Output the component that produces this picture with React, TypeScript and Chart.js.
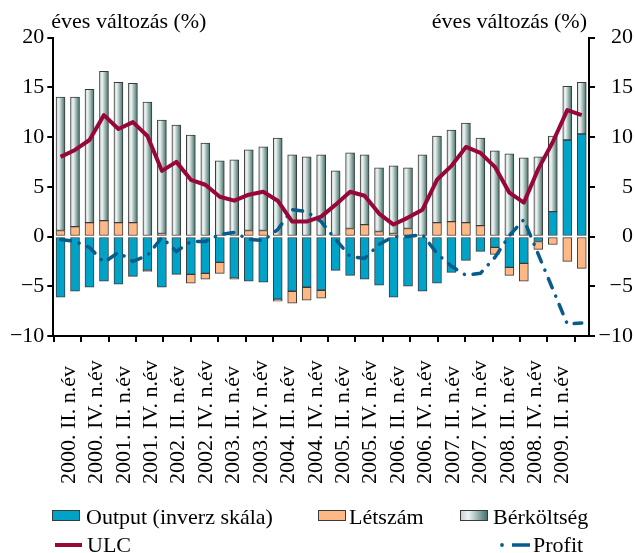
import { useEffect, useRef } from 'react';
import { Chart, registerables } from 'chart.js';

Chart.register(...registerables);

const categories = [
  '2000. II. n.év', '2000. III. n.év', '2000. IV. n.év',
  '2001. I. n.év', '2001. II. n.év', '2001. III. n.év', '2001. IV. n.év',
  '2002. I. n.év', '2002. II. n.év', '2002. III. n.év', '2002. IV. n.év',
  '2003. I. n.év', '2003. II. n.év', '2003. III. n.év', '2003. IV. n.év',
  '2004. I. n.év', '2004. II. n.év', '2004. III. n.év', '2004. IV. n.év',
  '2005. I. n.év', '2005. II. n.év', '2005. III. n.év', '2005. IV. n.év',
  '2006. I. n.év', '2006. II. n.év', '2006. III. n.év', '2006. IV. n.év',
  '2007. I. n.év', '2007. II. n.év', '2007. III. n.év', '2007. IV. n.év',
  '2008. I. n.év', '2008. II. n.év', '2008. III. n.év', '2008. IV. n.év',
  '2009. I. n.év', '2009. II. n.év',
];

const output = [-6.1, -5.5, -5.1, -4.5, -4.8, -4.0, -3.4, -5.1, -3.8, -3.8, -3.7, -2.6, -4.2, -4.5, -4.6, -6.3, -5.5, -5.1, -5.4, -3.4, -3.9, -4.3, -4.9, -6.1, -5.0, -5.5, -4.7, -3.6, -2.4, -1.5, -1.1, -3.1, -2.7, -0.5, 2.5, 9.7, 10.3];
const letszam = [0.6, 1.0, 1.4, 1.6, 1.4, 1.4, -0.1, 0.3, 0, -0.9, -0.6, -1.1, -0.1, 0.6, 0.6, -0.2, -1.2, -1.3, -0.8, 0, 0.8, 1.2, 0.5, 0.3, 0.8, 0.1, 1.4, 1.5, 1.4, 1.1, -0.7, -0.8, -1.8, -0.8, -0.8, -2.5, -3.2];
const berkoltseg = [13.4, 13.0, 13.4, 15.0, 14.1, 14.0, 13.5, 11.4, 11.2, 10.2, 9.4, 7.6, 7.7, 8.1, 8.4, 9.9, 8.2, 8.0, 8.2, 6.6, 7.6, 7.0, 6.4, 6.8, 6.1, 8.1, 8.7, 9.2, 10.0, 8.8, 8.6, 8.3, 7.9, 8.0, 7.6, 5.4, 5.2];
const ulc = [8.0, 8.7, 9.7, 12.2, 10.8, 11.5, 10.1, 6.6, 7.5, 5.7, 5.2, 4.0, 3.6, 4.2, 4.5, 3.6, 1.5, 1.5, 2.0, 3.2, 4.5, 4.1, 2.3, 1.2, 1.9, 2.7, 5.7, 7.1, 9.0, 8.4, 7.0, 4.4, 3.4, 6.8, 9.5, 12.7, 12.2];
const profit = [-0.3, -0.5, -1.1, -2.6, -1.6, -2.5, -1.9, -0.1, -1.5, -0.5, -0.5, 0.2, 0.4, -0.3, -0.4, 0.7, 2.7, 2.5, 1.5, -0.3, -2.0, -2.2, -0.8, 0.0, 0.0, 0.2, -1.7, -3.0, -3.9, -3.7, -2.1, 0.1, 1.7, -1.8, -5.3, -8.8, -8.7];

const yMin = -10;
const yMax = 20;
const yStep = 5;
const axisTitle = 'éves változás (%)';
const seriesNames = ['Output (inverz skála)', 'Létszám', 'Bérköltség', 'ULC', 'Profit'];

const FONT = '"Liberation Serif", "Times New Roman", serif';
const C_OUTPUT = '#00A3C8';
const C_LETSZAM = '#FDB886';
const C_ULC = '#98073A';
const C_PROFIT = '#075C8C';
const C_BORDER = '#3a3a3a';

function grayGradient(c: CanvasRenderingContext2D, x0: number, x1: number) {
  const g = c.createLinearGradient(x0, 0, x1, 0);
  g.addColorStop(0, '#c3d1ce');
  g.addColorStop(0.3, '#eef3f2');
  g.addColorStop(1, '#3d6e66');
  return g;
}

const berBg = (ctx: any) => {
  const chart = ctx.chart;
  const xs = chart.scales && chart.scales.x;
  if (!xs || ctx.type !== 'data') return '#9fb5b0';
  const cx = xs.getPixelForValue(ctx.dataIndex);
  if (!Number.isFinite(cx)) return '#9fb5b0';
  return grayGradient(chart.ctx, cx - 4.5, cx + 4.5);
};

const fmtTick = (v: any) => String(v).replace('-', '\u2212');

const decorPlugin = {
  id: 'decor',
  afterDraw(chart: any) {
    const c: CanvasRenderingContext2D = chart.ctx;
    const area = chart.chartArea;
    c.save();
    c.fillStyle = '#000';
    c.font = `22px ${FONT}`;
    c.textBaseline = 'alphabetic';
    c.textAlign = 'left';
    c.fillText(axisTitle, area.left - 2, 28);
    c.textAlign = 'right';
    c.fillText(axisTitle, area.right - 2, 28);

    // x labels (rotated, start aligned at bottom)
    const xt = chart.scales.xt;
    c.font = `22px ${FONT}`;
    c.textAlign = 'left';
    c.textBaseline = 'middle';
    for (let i = 0; i < categories.length; i += 2) {
      const px = xt.getPixelForValue(i - 0.5);
      c.save();
      c.translate(px + 1.5, 484);
      c.rotate(-Math.PI / 2);
      c.fillText(categories[i], 0, 0);
      c.restore();
    }

    // legend
    c.font = `22px ${FONT}`;
    c.textBaseline = 'alphabetic';
    c.textAlign = 'left';
    const boxY = 510;
    const boxH = 11;
    const drawBox = (x: number, fill: any) => {
      c.fillStyle = fill;
      c.fillRect(x, boxY, 28, boxH);
      c.strokeStyle = C_BORDER;
      c.lineWidth = 1;
      c.strokeRect(x + 0.5, boxY + 0.5, 27, boxH - 1);
    };
    drawBox(52, C_OUTPUT);
    c.fillStyle = '#000';
    c.fillText(seriesNames[0], 86, 524);
    drawBox(318, C_LETSZAM);
    c.fillStyle = '#000';
    c.fillText(seriesNames[1], 349, 524);
    drawBox(460, grayGradient(c, 460, 488));
    c.fillStyle = '#000';
    c.fillText(seriesNames[2], 493, 524);

    c.strokeStyle = C_ULC;
    c.lineWidth = 4;
    c.beginPath();
    c.moveTo(55, 545);
    c.lineTo(82, 545);
    c.stroke();
    c.fillStyle = '#000';
    c.fillText(seriesNames[3], 87, 552);

    c.strokeStyle = C_PROFIT;
    c.fillStyle = C_PROFIT;
    c.lineWidth = 3.5;
    c.beginPath();
    c.arc(502, 545, 1.9, 0, Math.PI * 2);
    c.fill();
    c.beginPath();
    c.moveTo(512, 545);
    c.lineTo(530, 545);
    c.stroke();
    c.fillStyle = '#000';
    c.fillText(seriesNames[4], 533, 552);
    c.restore();
  },
};

export default function App() {
  const ref = useRef<HTMLCanvasElement | null>(null);
  useEffect(() => {
    if (!ref.current) return;
    const barCommon = {
      type: 'bar' as const,
      yAxisID: 'y',
      xAxisID: 'x',
      barThickness: 9,
      borderWidth: 1,
      borderColor: C_BORDER,
      borderSkipped: false,
      order: 1,
    };
    const chart = new Chart(ref.current, {
      type: 'bar',
      data: {
        labels: categories,
        datasets: [
          { ...barCommon, label: seriesNames[0], data: output, backgroundColor: C_OUTPUT },
          { ...barCommon, label: seriesNames[1], data: letszam, backgroundColor: C_LETSZAM },
          { ...barCommon, label: seriesNames[2], data: berkoltseg, backgroundColor: berBg },
          {
            type: 'line', label: seriesNames[3], data: ulc, yAxisID: 'y2', xAxisID: 'x',
            borderColor: C_ULC, borderWidth: 4, pointRadius: 0, tension: 0, order: 0,
            borderJoinStyle: 'round', fill: false,
          },
          {
            type: 'line', label: seriesNames[4], data: profit, yAxisID: 'y2', xAxisID: 'x',
            borderColor: C_PROFIT, borderWidth: 3.5, pointRadius: 0, tension: 0, order: 0,
            borderDash: [10, 9, 0.1, 9], borderCapStyle: 'round', fill: false,
          },
        ] as any,
      },
      options: {
        responsive: false,
        animation: false,
        devicePixelRatio: 1,
        layout: { padding: { top: 37.5, left: 0, right: 2, bottom: 67 } },
        plugins: { legend: { display: false }, tooltip: { enabled: false }, title: { display: false } },
        scales: {
          x: {
            type: 'category',
            display: false,
            stacked: true,
            offset: true,
          },
          xt: {
            type: 'linear',
            position: 'bottom',
            min: -0.5,
            max: categories.length - 0.5,
            afterBuildTicks: (s: any) => {
              const t: any[] = [];
              for (let i = 0; i < categories.length; i += 2) t.push({ value: i - 0.5 });
              s.ticks = t;
            },
            afterFit: (s: any) => { s.height = 150; },
            ticks: { display: false },
            grid: { drawOnChartArea: false, drawTicks: true, tickLength: 6, color: '#000', lineWidth: 2 },
            border: { display: true, color: '#000', width: 2 },
          },
          y: {
            position: 'left',
            stacked: true,
            min: yMin,
            max: yMax,
            ticks: { stepSize: yStep, color: '#000', font: { family: FONT, size: 22 }, padding: 3, callback: fmtTick },
            grid: { drawOnChartArea: false, drawTicks: true, tickLength: 6, color: '#000', lineWidth: 2 },
            border: { display: true, color: '#000', width: 2 },
            afterFit: (s: any) => { s.width = 53.3; },
          },
          y2: {
            position: 'right',
            min: yMin,
            max: yMax,
            ticks: { stepSize: yStep, color: '#000', font: { family: FONT, size: 22 }, padding: 3, crossAlign: 'far', callback: fmtTick },
            grid: { drawOnChartArea: false, drawTicks: true, tickLength: 6, color: '#000', lineWidth: 2 },
            border: { display: true, color: '#000', width: 2 },
            afterFit: (s: any) => { s.width = 44; },
          },
        },
      } as any,
      plugins: [decorPlugin],
    });
    return () => chart.destroy();
  }, []);
  return (
    <canvas
      ref={ref}
      width={635}
      height={553}
      style={{ position: 'absolute', left: 0, top: 0, width: 635, height: 553, display: 'block', background: '#fff' }}
    />
  );
}
